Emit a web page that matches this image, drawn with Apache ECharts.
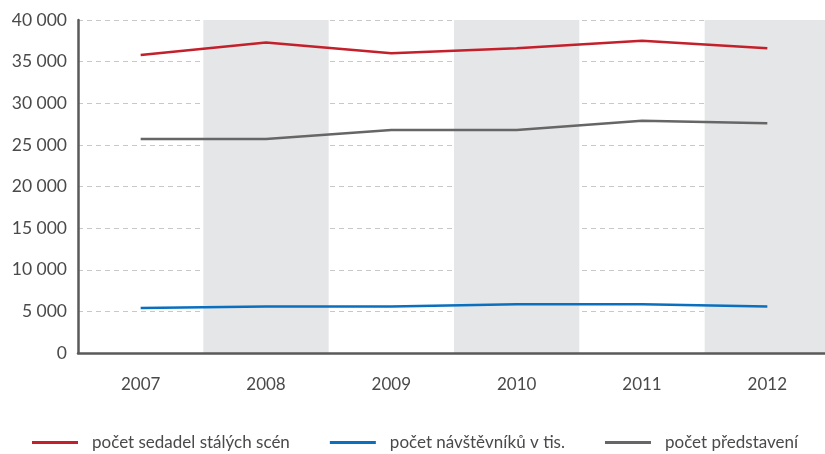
<!DOCTYPE html>
<html><head><meta charset="utf-8">
<script src="https://cdn.jsdelivr.net/npm/echarts@6/dist/echarts.min.js"></script>
<style>html,body{margin:0;padding:0;background:#fff}#c{width:825px;height:454px}</style>
</head><body><div id="c"></div>
<script>
const years = ['2007','2008','2009','2010','2011','2012'];
const seats = [35800, 37300, 36000, 36600, 37500, 36600];
const visitors = [5400, 5600, 5600, 5850, 5850, 5600];
const performances = [25700, 25700, 26800, 26800, 27900, 27600];
const seriesNames = ['počet sedadel stálých scén', 'počet návštěvníků v tis.', 'počet představení'];
const colors = ['#c3202b', '#0a6fbe', '#666666'];

const FONT = 'Lato';
const chart = echarts.init(document.getElementById('c'), null, {renderer:'canvas'});
const mk = (name, data, color) => ({
  name, type:'line', data, symbol:'none', smooth:false,
  lineStyle:{color, width:2.5}, itemStyle:{color}
});
chart.setOption({
  animation:false,
  textStyle:{fontFamily:FONT},
  grid:{left:78, top:20, width:752, bottom:101, containLabel:false, outerBoundsMode:'none'},
  legend:{
    left:32, top:434, padding:0, itemWidth:46, itemHeight:3, itemGap:40,
    icon:'rect',
    textStyle:{fontFamily:FONT, fontSize:17, color:'#4a4a4a', padding:[0,0,0,9]},
    data: seriesNames
  },
  xAxis:{
    type:'category', data:years, boundaryGap:true,
    axisLine:{show:true, lineStyle:{color:'#5a5a5a', width:2.5}},
    axisTick:{show:false},
    axisLabel:{fontFamily:FONT, fontSize:17, color:'#4a4a4a', margin:23},
    splitArea:{show:true, areaStyle:{color:['rgba(255,255,255,0)','#e5e6e8']}}
  },
  yAxis:{
    type:'value', min:0, max:40000, interval:5000,
    axisLine:{show:true, lineStyle:{color:'#5a5a5a', width:2.5}},
    axisTick:{show:false},
    axisLabel:{fontFamily:FONT, fontSize:17.5, color:'#4a4a4a', margin:11,
      formatter:v => String(v).replace(/\B(?=(\d{3})+(?!\d))/g,' ')},
    splitLine:{show:true, lineStyle:{color:'#c8c8c8', type:[5,4], width:1}}
  },
  series:[
    mk(seriesNames[0], seats, colors[0]),
    mk(seriesNames[1], visitors, colors[1]),
    mk(seriesNames[2], performances, colors[2])
  ]
});
</script></body></html>
